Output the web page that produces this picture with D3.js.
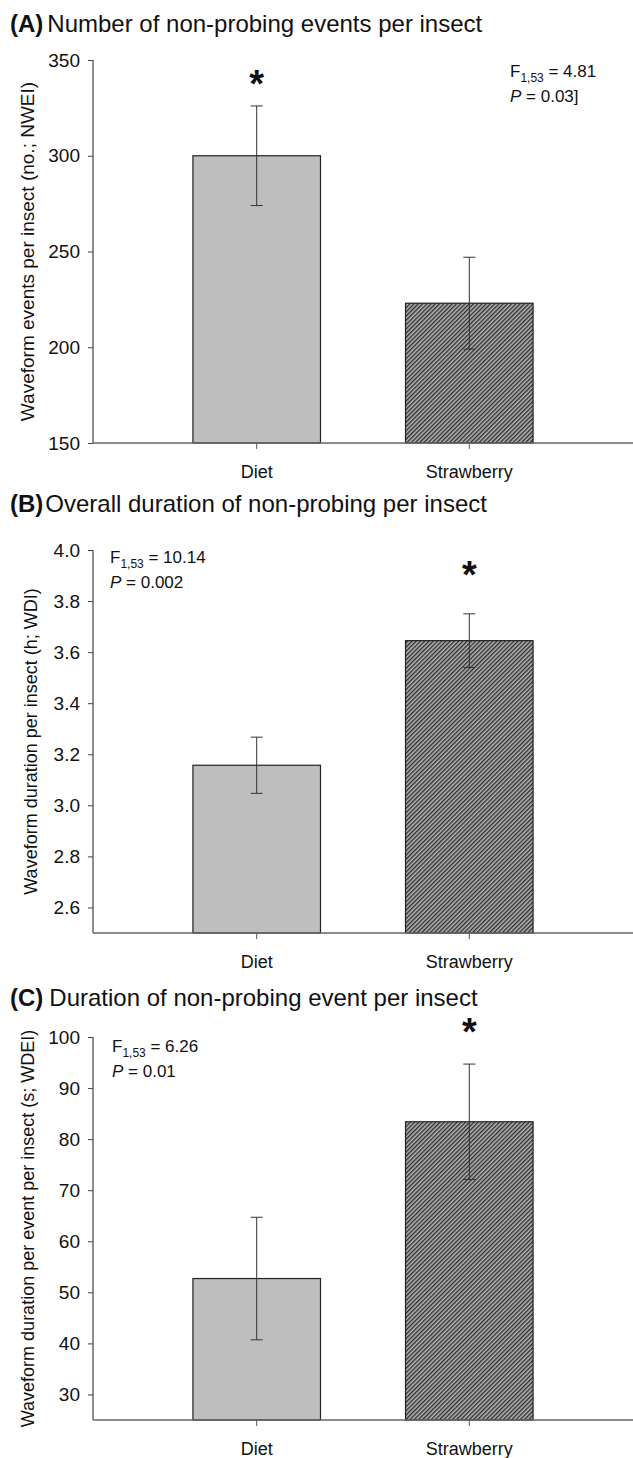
<!DOCTYPE html>
<html lang="en">
<head>
<meta charset="UTF-8">
<title>Non-probing events</title>
<script src="https://d3js.org/d3.v7.min.js"></script>
<style>
  body { margin: 0; background: #fff; }
  svg { display: block; font-family: "Liberation Sans", Arial, sans-serif; }
  .bar { stroke: #222; stroke-width: 1.2px; }
  .err { stroke: #333; stroke-width: 1px; }
</style>
</head>
<body>
<svg id="chart" width="633" height="1458"></svg>
<script>
// data
const categories = ["Diet", "Strawberry"];
const nweiMean = [300, 223];
const nweiSE = [26, 24];
const wdiMean = [3.157, 3.645];
const wdiSE = [0.11, 0.105];
const wdeiMean = [52.7, 83.4];
const wdeiSE = [12, 11.3];

const panelLetters = ["(A)", "(B)", "(C)"];
const panelTitles = [
  "Number of non-probing events per insect",
  "Overall duration of non-probing per insect",
  "Duration of non-probing event per insect"
];
const yLabels = [
  "Waveform events per insect (no.; NWEI)",
  "Waveform duration per insect (h; WDI)",
  "Waveform duration per event per insect (s; WDEI)"
];
const yDomains = [[150, 350], [2.5, 4.0], [25, 100]];
const yTicks = [
  [150, 200, 250, 300, 350],
  [2.6, 2.8, 3.0, 3.2, 3.4, 3.6, 3.8, 4.0],
  [30, 40, 50, 60, 70, 80, 90, 100]
];
const tickFormats = ["d", ".1f", "d"];
const fValues = ["4.81", "10.14", "6.26"];
const pValues = ["0.03]", "0.002", "0.01"];
const starBar = [0, 1, 1];   // which bar has the significance star

const means = [nweiMean, wdiMean, wdeiMean];
const ses = [nweiSE, wdiSE, wdeiSE];

// layout (pixels)
const layout = [
  { top: 60, bottom: 443, titleY: 32, titleGap: 4, statX: 510, statY: 77, starY: 97, labelX: 34, labelSize: 19 },
  { top: 550, bottom: 933, titleY: 512, titleGap: 2, statX: 110, statY: 563, starY: 588, labelX: 37, labelSize: 18 },
  { top: 1037, bottom: 1420, titleY: 1006, titleGap: 6, statX: 112, statY: 1052, starY: 1045, labelX: 34, labelSize: 18 }
];
const axisX = 93, rightX = 633;

const svg = d3.select("#chart");

// hatch for strawberry bars
const defs = svg.append("defs");
const pat = defs.append("pattern")
  .attr("id", "hatch")
  .attr("patternUnits", "userSpaceOnUse")
  .attr("width", 3)
  .attr("height", 3)
  .attr("patternTransform", "rotate(45)");
pat.append("rect").attr("width", 3).attr("height", 3).attr("fill", "#b4b4b4");
pat.append("line").attr("x1", 0.7).attr("y1", 0).attr("x2", 0.7).attr("y2", 3)
  .attr("stroke", "#262626").attr("stroke-width", 1.3);

const fills = ["#bebebe", "url(#hatch)"];

const x = d3.scaleBand()
  .domain(categories)
  .range([axisX, rightX])
  .paddingInner(0.4)
  .paddingOuter(0.47);

layout.forEach((L, i) => {
  const g = svg.append("g");
  const y = d3.scaleLinear().domain(yDomains[i]).range([L.bottom, L.top]);

  // title
  const t = g.append("text")
    .attr("x", 10)
    .attr("y", L.titleY)
    .attr("font-size", 24)
    .attr("fill", "#111");
  t.append("tspan").attr("font-weight", "bold").text(panelLetters[i]);
  t.append("tspan").attr("dx", L.titleGap).text(panelTitles[i]);

  // bars
  const rows = categories.map((c, j) => ({ c, m: means[i][j], se: ses[i][j], j }));
  g.selectAll(".bar")
    .data(rows)
    .enter()
    .append("rect")
    .attr("class", "bar")
    .attr("x", d => x(d.c))
    .attr("width", x.bandwidth())
    .attr("y", d => y(d.m))
    .attr("height", d => L.bottom - y(d.m))
    .attr("fill", d => fills[d.j]);

  // error bars
  const eb = g.selectAll(".eb")
    .data(rows)
    .enter()
    .append("g")
    .attr("class", "err");
  eb.append("line")
    .attr("x1", d => x(d.c) + x.bandwidth() / 2)
    .attr("x2", d => x(d.c) + x.bandwidth() / 2)
    .attr("y1", d => y(d.m - d.se))
    .attr("y2", d => y(d.m + d.se));
  [1, -1].forEach(s => {
    eb.append("line")
      .attr("x1", d => x(d.c) + x.bandwidth() / 2 - 6)
      .attr("x2", d => x(d.c) + x.bandwidth() / 2 + 6)
      .attr("y1", d => y(d.m + s * d.se))
      .attr("y2", d => y(d.m + s * d.se));
  });

  // y axis
  const yAxis = d3.axisLeft(y)
    .tickValues(yTicks[i])
    .tickFormat(d3.format(tickFormats[i]))
    .tickSize(5)
    .tickSizeOuter(0)
    .tickPadding(8);
  const ya = g.append("g")
    .attr("transform", `translate(${axisX},0)`)
    .call(yAxis);
  ya.select(".domain").remove();
  ya.selectAll(".tick line").attr("stroke", "#444");
  ya.selectAll("text").attr("font-size", 19).attr("fill", "#111")
    .attr("font-family", "Liberation Sans, Arial, sans-serif");
  g.append("line")
    .attr("x1", axisX).attr("x2", axisX)
    .attr("y1", L.top).attr("y2", L.bottom)
    .attr("stroke", "#444").attr("stroke-width", 1.2);

  // x axis
  const xAxis = d3.axisBottom(x).tickSize(6).tickSizeOuter(0).tickPadding(16);
  const xa = g.append("g")
    .attr("transform", `translate(0,${L.bottom})`)
    .call(xAxis);
  xa.select(".domain").remove();
  xa.selectAll(".tick line").attr("stroke", "#555");
  xa.selectAll("text").attr("font-size", 18).attr("fill", "#111")
    .attr("font-family", "Liberation Sans, Arial, sans-serif");
  g.append("line")
    .attr("x1", axisX).attr("x2", rightX)
    .attr("y1", L.bottom).attr("y2", L.bottom)
    .attr("stroke", "#666").attr("stroke-width", 1.6);

  // y label
  g.append("text")
    .attr("transform", `translate(${L.labelX},${(L.top + L.bottom) / 2}) rotate(-90)`)
    .attr("text-anchor", "middle")
    .attr("font-size", L.labelSize)
    .attr("fill", "#111")
    .text(yLabels[i]);

  // statistics
  const f = g.append("text")
    .attr("x", L.statX).attr("y", L.statY)
    .attr("font-size", 17).attr("fill", "#111");
  f.append("tspan").text("F");
  f.append("tspan").attr("font-size", 12).attr("dy", 5).text("1,53");
  f.append("tspan").attr("dy", -5).text(" = " + fValues[i]);
  const p = g.append("text")
    .attr("x", L.statX).attr("y", L.statY + 25)
    .attr("font-size", 17).attr("fill", "#111");
  p.append("tspan").attr("font-style", "italic").text("P");
  p.append("tspan").text(" = " + pValues[i]);

  // significance star
  g.append("text")
    .attr("x", x(categories[starBar[i]]) + x.bandwidth() / 2)
    .attr("y", L.starY)
    .attr("text-anchor", "middle")
    .attr("font-size", 38)
    .attr("font-weight", "bold")
    .attr("fill", "#111")
    .text("*");
});
</script>
</body>
</html>
